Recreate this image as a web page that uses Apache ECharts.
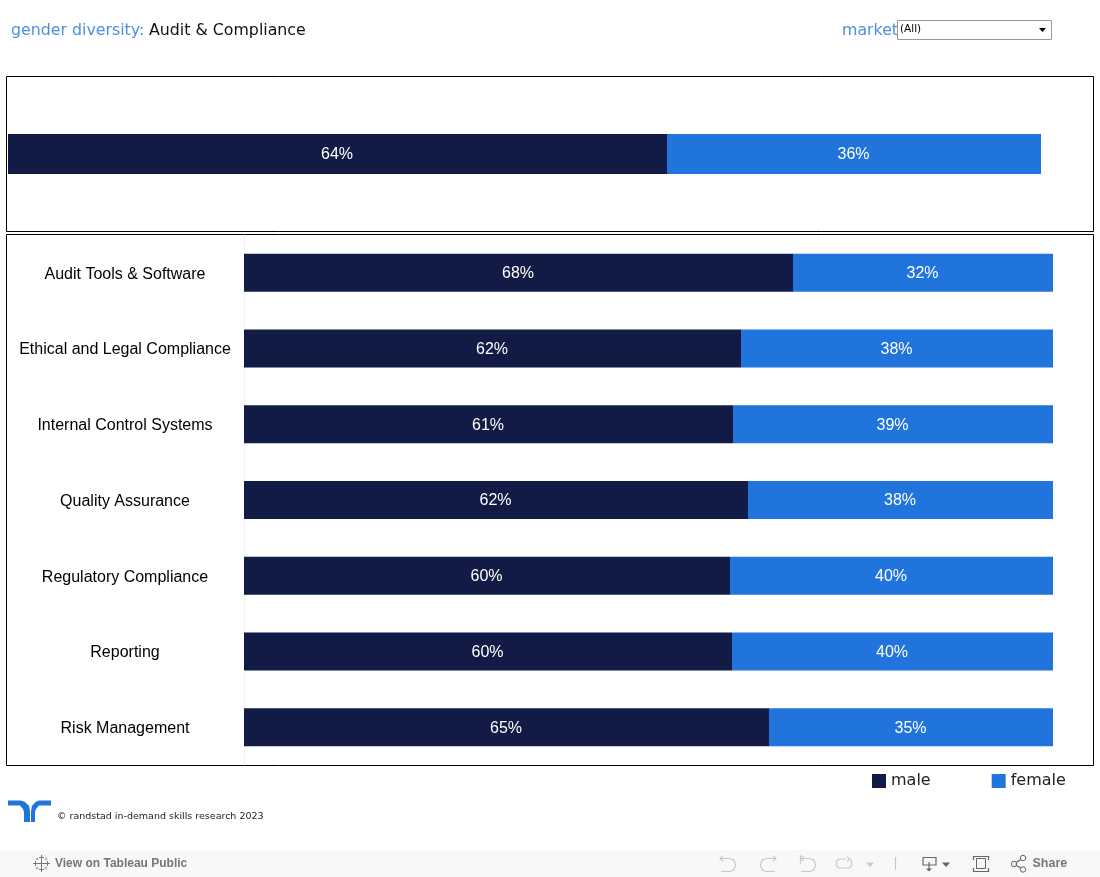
<!DOCTYPE html>
<html><head><meta charset="utf-8">
<style>html,body{margin:0;padding:0;background:#fff}#c{width:1100px;height:877px}</style>
<script src="https://cdn.jsdelivr.net/npm/echarts@6/dist/echarts.min.js"></script>
</head><body><div id="c"></div>
<script>
const categories = ['Audit Tools & Software','Ethical and Legal Compliance','Internal Control Systems','Quality Assurance','Regulatory Compliance','Reporting','Risk Management'];
const maleValues = [67.862,61.434,60.445,62.299,60.074,60.321,64.895];
const femaleValues = [32.138,38.566,39.555,37.701,39.926,39.679,35.105];
const maleLabels = ['68%','62%','61%','62%','60%','60%','65%'];
const femaleLabels = ['32%','38%','39%','38%','40%','40%','35%'];
const totalMale = [63.795];
const totalFemale = [36.205];
const totalMaleLabels = ['64%'];
const totalFemaleLabels = ['36%'];
const NAVY='#111b45', BLUE='#2174dc', SKY='#4f8fe0';
const sans='"Liberation Sans", Arial, sans-serif', dj='"DejaVu Sans", sans-serif';
const chart = echarts.init(document.getElementById('c'),null,{renderer:'canvas'});
function seg(name,xi,yi,color,data,labels,bw){
  return {name,type:'bar',stack:'s'+xi,xAxisIndex:xi,yAxisIndex:yi,data,barWidth:bw,silent:true,
    itemStyle:{color},
    label:{show:true,position:'inside',offset:[-0.5,1],color:'#fff',fontFamily:sans,fontSize:16,
      formatter:p=>labels[p.dataIndex]}};
}
const line=(pts,stroke,lw)=>({type:'polyline',silent:true,shape:{points:pts},style:{stroke,lineWidth:lw||1.2,fill:null}});
const GR='#c9c9c9', DK='#666', TB='#777';
const plus=(cx,cy,r,c)=>[line([[cx,cy-r],[cx,cy+r]],c,1),line([[cx-r,cy],[cx+r,cy]],c,1)];
const graphic=[
  {type:'rect',silent:true,z:-1,shape:{x:6.5,y:76.5,width:1087,height:155},style:{fill:'#fff',stroke:'#000',lineWidth:1}},
  {type:'rect',silent:true,z:-1,shape:{x:6.5,y:234.5,width:1087,height:531},style:{fill:'#fff',stroke:'#000',lineWidth:1}},
  {type:'text',silent:true,x:11,y:23,style:{text:'gender diversity:',fill:SKY,font:'15.8px '+dj}},
  {type:'text',silent:true,x:149,y:23,style:{text:'Audit & Compliance',fill:'#111',font:'15.8px '+dj}},
  {type:'text',silent:true,x:842,y:23,style:{text:'market',fill:SKY,font:'15.8px '+dj}},
  {type:'rect',silent:true,shape:{x:897.5,y:20.5,width:154,height:19},style:{fill:'#fff',stroke:'#999',lineWidth:1}},
  {type:'text',silent:true,x:900,y:24,style:{text:'(All)',fill:'#000',font:'10.5px '+dj}},
  {type:'polygon',silent:true,shape:{points:[[1039,28],[1046,28],[1042.5,32]]},style:{fill:'#000'}},
  // logo
  {type:'polygon',silent:true,shape:{points:[[8,800.5],[21,800.5],[25,802],[29,806],[30,811],[30,822],[24,822],[24,812],[23,809],[20,805.5],[8,805.5]]},style:{fill:BLUE}},
  {type:'polygon',silent:true,shape:{points:[[51,800.5],[39,800.5],[35.5,802],[32,806],[31,811],[31,822],[35,822],[35,812],[36,809],[39,805.5],[51,805.5]]},style:{fill:BLUE}},
  {type:'text',silent:true,x:57,y:812,style:{text:'© randstad in-demand skills research 2023',fill:'#222',font:'9.5px '+dj}},
  // toolbar
  {type:'rect',silent:true,z:-1,shape:{x:0,y:850,width:1100,height:27},style:{fill:'#f8f8f8'}},
  {type:'text',silent:true,x:55,y:857.5,style:{text:'View on Tableau Public',fill:TB,font:'bold 12px '+sans}},
  ...plus(41.5,863.5,4,TB),...plus(41.5,857.5,2.5,TB),...plus(41.5,869.5,2.5,TB),...plus(35.5,863.5,2.5,TB),...plus(47.5,863.5,2.5,TB),
  ...plus(37,859,1.5,'#aaa'),...plus(46,859,1.5,'#aaa'),...plus(37,868,1.5,'#aaa'),...plus(46,868,1.5,'#aaa'),
  line([[720,858.5],[730,858.5],[734,860],[735.5,865],[734,870],[730,871.5],[721,871.5]],GR),
  line([[723,856],[720,858.5],[723,861]],GR),
  line([[776,858.5],[766,858.5],[762,860],[760.5,865],[762,870],[766,871.5],[775,871.5]],GR),
  line([[773,856],[776,858.5],[773,861]],GR),
  line([[801,858.5],[810,858.5],[814,860],[815.5,865],[814,870],[810,871.5],[801,871.5]],GR),
  line([[800.5,855],[800.5,864]],GR),line([[804,856],[801,858.5],[804,861]],GR),
  line([[846,859],[839,859],[836.5,861],[836.5,866],[839,868],[849,868],[851.5,866],[851.5,861],[850,859]],GR),
  line([[847,856.5],[850,859],[847,861.5]],GR),
  {type:'polygon',silent:true,shape:{points:[[866,862.5],[874,862.5],[870,867]]},style:{fill:GR}},
  line([[895.5,857],[895.5,870]],GR),
  line([[923,857.5],[936,857.5],[936,865],[923,865],[923,857.5]],DK),line([[929,862],[929,869]],DK),
  {type:'polygon',silent:true,shape:{points:[[926,868.5],[932,868.5],[929,871.5]]},style:{fill:DK}},
  {type:'polygon',silent:true,shape:{points:[[942,862.5],[950,862.5],[946,867]]},style:{fill:DK}},
  {type:'rect',silent:true,shape:{x:976.5,y:858.5,width:9,height:10},style:{stroke:DK,fill:null,lineWidth:1}},
  line([[973.5,860],[973.5,856.5],[988.5,856.5],[988.5,860]],DK),line([[973.5,868],[973.5,871.5],[988.5,871.5],[988.5,868]],DK),
  line([[1023,858],[1014,864],[1023,869.5]],DK),
  {type:'circle',silent:true,shape:{cx:1023,cy:858,r:2.7},style:{fill:'#f8f8f8',stroke:DK}},
  {type:'circle',silent:true,shape:{cx:1014,cy:864,r:2.7},style:{fill:'#f8f8f8',stroke:DK}},
  {type:'circle',silent:true,shape:{cx:1023,cy:869.5,r:2.7},style:{fill:'#f8f8f8',stroke:DK}},
  {type:'text',silent:true,x:1032.5,y:857.5,style:{text:'Share',fill:TB,font:'bold 12.5px '+sans}}
];
chart.setOption({
  animation:false,backgroundColor:'#fff',
  color:[NAVY,BLUE],
  legend:{show:true,left:867,top:768,icon:'rect',itemWidth:14,itemHeight:14,itemGap:61,selectedMode:false,
    data:['male','female'],textStyle:{fontFamily:dj,fontSize:16,color:'#222'}},
  grid:[
    {left:8,top:77,width:1033,height:154},
    {left:244,top:235,width:809,height:530}
  ],
  xAxis:[
    {gridIndex:0,type:'value',min:0,max:100,show:false},
    {gridIndex:1,type:'value',min:0,max:100,show:false}
  ],
  yAxis:[
    {gridIndex:0,type:'category',data:['Total'],show:false},
    {gridIndex:1,type:'category',data:categories,inverse:true,
      axisTick:{show:false},axisLine:{show:true,lineStyle:{color:'#f0f0f0',width:1}},
      axisLabel:{align:'center',margin:119,formatter:v=>'{a|'+v+'}',
        rich:{a:{color:'#000',fontFamily:sans,fontSize:16,padding:[3,0,0,0]}}}}
  ],
  series:[
    seg('male',0,0,NAVY,totalMale,totalMaleLabels,40),
    seg('female',0,0,BLUE,totalFemale,totalFemaleLabels,40),
    seg('male',1,1,NAVY,maleValues,maleLabels,38),
    seg('female',1,1,BLUE,femaleValues,femaleLabels,38)
  ],
  graphic:{elements:graphic}
});
</script></body></html>
